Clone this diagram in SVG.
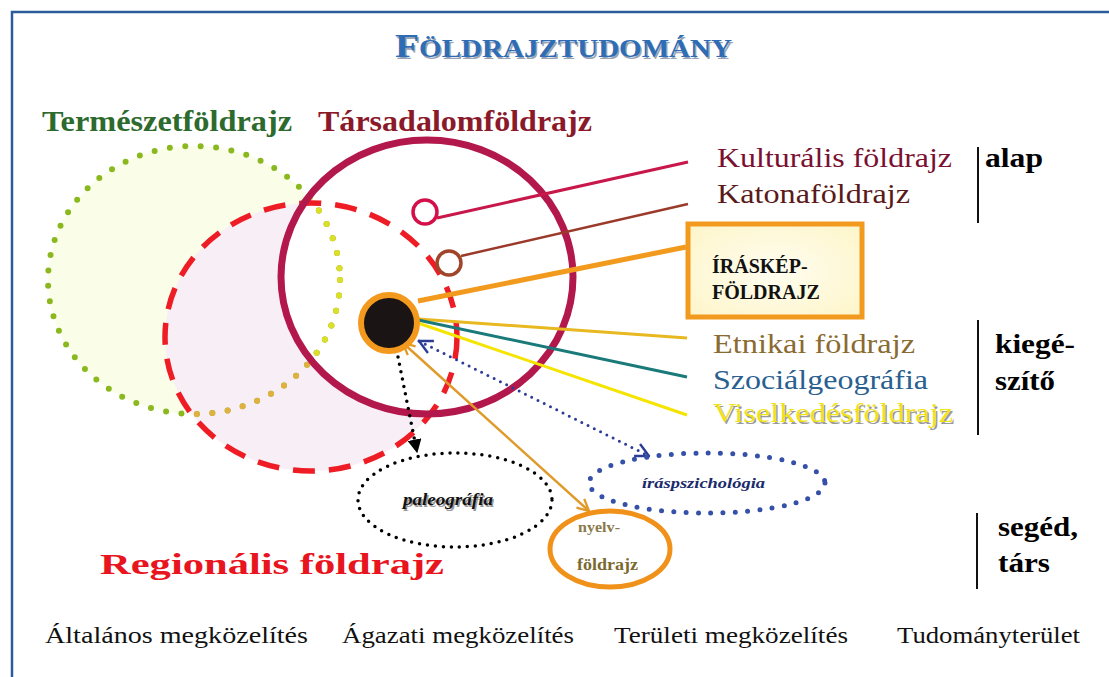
<svg xmlns="http://www.w3.org/2000/svg" width="1109" height="677" viewBox="0 0 1109 677">
<style>
.serif{font-family:"Liberation Serif","Times New Roman",serif}
.b{font-weight:bold}
.bi{font-weight:bold;font-style:italic}
.lbl{font-size:28px}
.side{font-size:28px;font-weight:bold;fill:#000}
.bottom{font-size:24px;fill:#111}
.vline{stroke:#111;stroke-width:2}
</style>
<defs>
<clipPath id="clipRed"><ellipse cx="311" cy="337" rx="146" ry="134"/></clipPath>
<clipPath id="clipMaroon"><ellipse cx="427" cy="277" rx="146" ry="137"/></clipPath>
<marker id="arrBlack" viewBox="0 0 10 10" refX="9" refY="5" markerWidth="14" markerHeight="14" markerUnits="userSpaceOnUse" orient="auto"><path d="M0,0 L10,5 L0,10 z" fill="#000"/></marker>
<marker id="chevBlue" viewBox="0 0 12 12" refX="11" refY="6" markerWidth="16" markerHeight="16" markerUnits="userSpaceOnUse" orient="auto-start-reverse"><path d="M1,1 L11,6 L1,11" fill="none" stroke="#2b3c96" stroke-width="1.8"/></marker>
<marker id="chevOrange" viewBox="0 0 12 12" refX="11" refY="6" markerWidth="14" markerHeight="14" markerUnits="userSpaceOnUse" orient="auto-start-reverse"><path d="M1,1 L11,6 L1,11" fill="none" stroke="#e09a2a" stroke-width="2"/></marker>
<radialGradient id="boxFill" cx="0.5" cy="0.5" r="0.7"><stop offset="0" stop-color="#fffdf0"/><stop offset="1" stop-color="#fdf5c8"/></radialGradient>
</defs>

<rect width="1109" height="677" fill="#ffffff"/>
<path d="M12,680 V12 H1112" fill="none" stroke="#2b5b9b" stroke-width="2.5"/>

<g id="title">
<text class="serif b" x="396.5" y="58.5" fill="#9aa4b4" textLength="337" lengthAdjust="spacingAndGlyphs"><tspan font-size="34">F</tspan><tspan font-size="25">ÖLDRAJZTUDOMÁNY</tspan></text>
<text class="serif b" x="395" y="57" fill="#2e6db5" textLength="337" lengthAdjust="spacingAndGlyphs"><tspan font-size="34">F</tspan><tspan font-size="25">ÖLDRAJZTUDOMÁNY</tspan></text>
</g>

<g id="areas">
<ellipse cx="194" cy="280" rx="146" ry="134" fill="#fafde8"/>
<ellipse cx="311" cy="337" rx="146" ry="134" fill="#f8eef6"/>
<ellipse cx="427" cy="277" rx="146" ry="137" fill="#ffffff"/>
</g>

<g id="termeszetfoldrajz">
<ellipse cx="194" cy="280" rx="146" ry="134" fill="none" stroke="#8ab81e" stroke-width="6" stroke-linecap="round" stroke-dasharray="0 15.5"/>
<ellipse cx="194" cy="280" rx="146" ry="134" fill="none" stroke="#e0b040" stroke-width="6" stroke-linecap="round" stroke-dasharray="0 15.5" clip-path="url(#clipRed)"/>
<ellipse cx="194" cy="280" rx="146" ry="134" fill="none" stroke="#d8e02a" stroke-width="6" stroke-linecap="round" stroke-dasharray="0 15.5" clip-path="url(#clipMaroon)"/>
<text class="serif b" x="42" y="131" font-size="30" fill="#2d6a2d" textLength="250" lengthAdjust="spacingAndGlyphs">Természetföldrajz</text>
</g>

<g id="regionalis">
<ellipse cx="311" cy="337" rx="146" ry="134" fill="none" stroke="#ee1c25" stroke-width="5.5" stroke-dasharray="22 14"/>
<text class="serif b" x="100" y="574" font-size="30" fill="#e8141e" textLength="344" lengthAdjust="spacingAndGlyphs">Regionális földrajz</text>
</g>

<g id="tarsadalomfoldrajz">
<ellipse cx="427" cy="277" rx="146" ry="137" fill="none" stroke="#b3184c" stroke-width="7"/>
<text class="serif b" x="318" y="131" font-size="30" fill="#8a1a2a" textLength="274" lengthAdjust="spacingAndGlyphs">Társadalomföldrajz</text>
</g>

<g id="connectors">
<line x1="437" y1="218" x2="688" y2="162" stroke="#c8174a" stroke-width="3"/>
<line x1="461" y1="256" x2="688" y2="204" stroke="#9a3a2a" stroke-width="2.5"/>
<line x1="418" y1="301" x2="686" y2="247" stroke="#f29a1e" stroke-width="5"/>
<line x1="418" y1="319" x2="687" y2="338" stroke="#e8b820" stroke-width="3"/>
<line x1="418" y1="320" x2="687" y2="377" stroke="#1a7a7a" stroke-width="3"/>
<line x1="418" y1="323" x2="687" y2="415" stroke="#f5e400" stroke-width="3"/>
<line x1="398" y1="357" x2="417" y2="452" stroke="#000" stroke-width="3.5" stroke-linecap="round" stroke-dasharray="0 7.5" marker-end="url(#arrBlack)"/>
<line x1="419" y1="341" x2="649" y2="456" stroke="#2b3c96" stroke-width="3" stroke-linecap="round" stroke-dasharray="0 7" marker-start="url(#chevBlue)" marker-end="url(#chevBlue)"/>
<line x1="403" y1="343" x2="589" y2="511" stroke="#e09a2a" stroke-width="2.5" marker-start="url(#chevOrange)" marker-end="url(#chevOrange)"/>
</g>

<g id="kulturalis-kor">
<circle cx="425" cy="212" r="12" fill="#fff" stroke="#d4104a" stroke-width="3.5"/>
</g>
<g id="katona-kor">
<circle cx="449" cy="263" r="12" fill="#fff" stroke="#a0452a" stroke-width="3.5"/>
</g>
<g id="kozpont">
<circle cx="389" cy="323" r="28" fill="#1a1414" stroke="#f39a1e" stroke-width="6"/>
</g>

<g id="iraskep">
<rect x="688" y="224" width="174" height="93" fill="url(#boxFill)" stroke="#f29a1e" stroke-width="5"/>
<text class="serif b" x="712" y="273" font-size="20" fill="#111">ÍRÁSKÉP-</text>
<text class="serif b" x="712" y="299" font-size="20" fill="#111">FÖLDRAJZ</text>
</g>

<g id="labels-alap">
<text class="serif lbl" x="717" y="167" fill="#7a1030" textLength="235" lengthAdjust="spacingAndGlyphs">Kulturális földrajz</text>
<text class="serif lbl" x="717" y="203" fill="#5a1a1a" textLength="193" lengthAdjust="spacingAndGlyphs">Katonaföldrajz</text>
</g>
<g id="labels-kieg">
<text class="serif lbl" x="713" y="353" fill="#8a6a30" textLength="202" lengthAdjust="spacingAndGlyphs">Etnikai földrajz</text>
<text class="serif lbl" x="713" y="389" fill="#2a6090" textLength="215" lengthAdjust="spacingAndGlyphs">Szociálgeográfia</text>
<text class="serif lbl" x="714.5" y="423.5" fill="#9a9a9a" textLength="240" lengthAdjust="spacingAndGlyphs">Viselkedésföldrajz</text>
<text class="serif lbl" x="713" y="422" fill="#f2e21a" textLength="240" lengthAdjust="spacingAndGlyphs">Viselkedésföldrajz</text>
</g>

<g id="categories">
<line class="vline" x1="978" y1="147" x2="978" y2="223"/>
<text class="serif side" x="985" y="167" textLength="58" lengthAdjust="spacingAndGlyphs">alap</text>
<line class="vline" x1="978" y1="320" x2="978" y2="435"/>
<text class="serif side" x="995" y="353" textLength="80" lengthAdjust="spacingAndGlyphs">kiegé-</text>
<text class="serif side" x="995" y="390" textLength="60" lengthAdjust="spacingAndGlyphs">szítő</text>
<line class="vline" x1="977" y1="513" x2="977" y2="589"/>
<text class="serif side" x="998" y="536" textLength="80" lengthAdjust="spacingAndGlyphs">segéd,</text>
<text class="serif side" x="998" y="572" textLength="52" lengthAdjust="spacingAndGlyphs">társ</text>
</g>

<g id="paleografia">
<ellipse cx="455" cy="500" rx="97" ry="47" fill="none" stroke="#000" stroke-width="3.5" stroke-linecap="round" stroke-dasharray="0 8"/>
<text class="serif bi" x="404.5" y="506.5" font-size="17" fill="#999" textLength="90" lengthAdjust="spacingAndGlyphs">paleográfia</text>
<text class="serif bi" x="403" y="505" font-size="17" fill="#111" textLength="90" lengthAdjust="spacingAndGlyphs">paleográfia</text>
</g>

<g id="iraspszichologia">
<ellipse cx="707" cy="483" rx="118" ry="30" fill="none" stroke="#3550a8" stroke-width="5" stroke-linecap="round" stroke-dasharray="0 12.3"/>
<text class="serif bi" x="642" y="488" font-size="15" fill="#1a2a6a" textLength="123" lengthAdjust="spacingAndGlyphs">íráspszichológia</text>
</g>

<g id="nyelvfoldrajz">
<ellipse cx="610" cy="549" rx="60" ry="38" fill="#fff" stroke="#f0921a" stroke-width="5"/>
<text class="serif b" x="578" y="532" font-size="15" fill="#8a7a4a" textLength="42" lengthAdjust="spacingAndGlyphs">nyelv-</text>
<text class="serif b" x="577" y="570" font-size="16" fill="#7a6a30" textLength="61" lengthAdjust="spacingAndGlyphs">földrajz</text>
</g>

<g id="bottom-labels">
<text class="serif bottom" x="45" y="643" textLength="263" lengthAdjust="spacingAndGlyphs">Általános megközelítés</text>
<text class="serif bottom" x="342" y="643" textLength="232" lengthAdjust="spacingAndGlyphs">Ágazati megközelítés</text>
<text class="serif bottom" x="614" y="643" textLength="234" lengthAdjust="spacingAndGlyphs">Területi megközelítés</text>
<text class="serif bottom" x="897" y="643" textLength="183" lengthAdjust="spacingAndGlyphs">Tudományterület</text>
</g>
</svg>
